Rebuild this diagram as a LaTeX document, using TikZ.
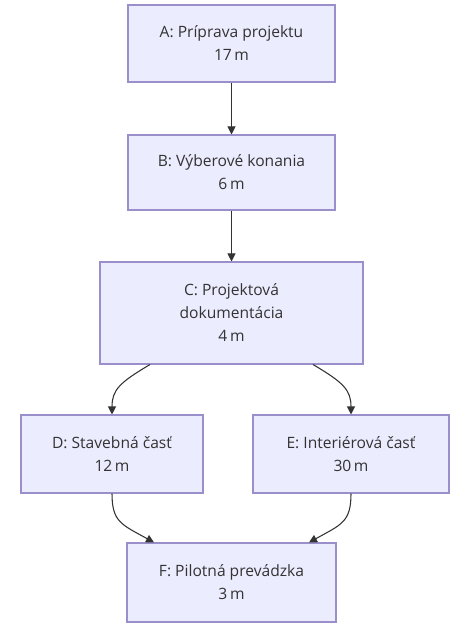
\documentclass[tikz,border=0pt]{standalone}
\usepackage{fontspec}
\setmainfont{Open Sans}
\usetikzlibrary{arrows.meta,calc}
\definecolor{boxfill}{HTML}{ECECFF}
\definecolor{boxdraw}{HTML}{9A8FCB}
\definecolor{linec}{HTML}{333333}
\definecolor{textc}{HTML}{333333}
\begin{document}
\begin{tikzpicture}[x=0.75pt,y=-0.75pt,
  box/.style={draw=boxdraw,fill=boxfill,line width=0.8pt,rectangle,align=center,
    font=\fontsize{11.7}{17.25}\selectfont,text=textc,inner sep=0pt},
  conn/.style={draw=linec,line width=0.8pt,-{Triangle[length=6pt,width=6pt]}}]
\useasboundingbox (0,0) rectangle (474,634);
\node[box,minimum width=207*0.75pt,minimum height=77*0.75pt] (A) at (231.5,43.5) {A: Príprava projektu\\17\,m};
\node[box,minimum width=207*0.75pt,minimum height=75*0.75pt] (B) at (231.5,172.5) {B: Výberové konania\\6\,m};
\node[box,minimum width=263*0.75pt,minimum height=102*0.75pt] (C) at (231.5,313) {C: Projektová\\dokumentácia\\4\,m};
\node[box,minimum width=182*0.75pt,minimum height=78*0.75pt] (D) at (112,454) {D: Stavebná časť\\12\,m};
\node[box,minimum width=196*0.75pt,minimum height=78*0.75pt] (E) at (351,454) {E: Interiérová časť\\30\,m};
\node[box,minimum width=209*0.75pt,minimum height=79*0.75pt] (F) at (231.5,582.5) {F: Pilotná prevádzka\\3\,m};
\draw[conn] (A.south) -- (B.north);
\draw[conn] (B.south) -- (C.north);
\draw[conn] ($(C.south)+(-81.5,0)$) .. controls ($(C.south)+(-112,18)$) and (D.north|-{(0,390)}) .. (D.north);
\draw[conn] ($(C.south)+(81.5,0)$) .. controls ($(C.south)+(112,18)$) and (E.north|-{(0,390)}) .. (E.north);
\draw[conn] (D.south) .. controls (D.south|-{(0,522)}) and ($(F.north)+(-110,-18)$) .. ($(F.north)+(-77.5,0)$);
\draw[conn] (E.south) .. controls (E.south|-{(0,522)}) and ($(F.north)+(110,-18)$) .. ($(F.north)+(77.5,0)$);
\end{tikzpicture}
\end{document}
